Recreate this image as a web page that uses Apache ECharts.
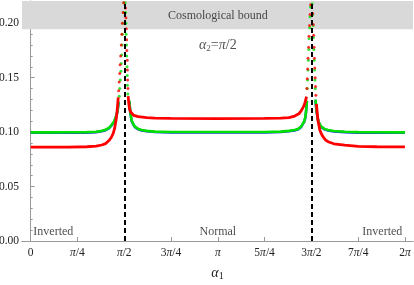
<!DOCTYPE html>
<html><head><meta charset="utf-8">
<script src="https://cdn.jsdelivr.net/npm/echarts@6/dist/echarts.min.js"></script>
<style>html,body{margin:0;padding:0;background:#fff}#c{width:414px;height:285px}</style>
</head><body><div id="c"></div>
<script>
// alpha1 in units of pi
const xTicks = [0, 0.25, 0.5, 0.75, 1, 1.25, 1.5, 1.75, 2];
const xTickLabels = ['0', '{i|\u03c0}/4', '{i|\u03c0}/2', '3{i|\u03c0}/4', '{i|\u03c0}', '5{i|\u03c0}/4', '3{i|\u03c0}/2', '7{i|\u03c0}/4', '2{i|\u03c0}'];
const yTicks = [0, 0.05, 0.10, 0.15, 0.20];
const divergences = [0.5, 1.5];
const boundLow = 0.1945;
const boundHigh = 0.2205;

// continuous curve parts (null = break)
const greenX = [0.00, 0.10, 0.20, 0.30, 0.35, 0.38, 0.40, 0.42, 0.432, 0.445, 0.452, 0.459, 0.465, 0.470,
  0.50,
  0.527, 0.532, 0.539, 0.548, 0.557, 0.575, 0.593, 0.62, 0.664, 0.75, 1.0, 1.25, 1.336, 1.38, 1.41, 1.429, 1.445, 1.455, 1.462, 1.468, 1.472, 1.476,
  1.50,
  1.522, 1.527, 1.536, 1.545, 1.554, 1.57, 1.589, 1.62, 1.678, 1.75, 1.85, 2.0];
const greenY = [0.0998, 0.0998, 0.0999, 0.1000, 0.1004, 0.1012, 0.1022, 0.1042, 0.1066, 0.1095, 0.1125, 0.1158, 0.1210, 0.1280,
  null,
  0.1290, 0.1190, 0.1110, 0.1075, 0.1050, 0.1030, 0.1020, 0.1012, 0.1005, 0.1002, 0.1001, 0.1002, 0.1005, 0.1012, 0.1020, 0.1030, 0.1050, 0.1066, 0.1100, 0.1140, 0.1200, 0.1290,
  null,
  0.1300, 0.1200, 0.1110, 0.1070, 0.1050, 0.1030, 0.1020, 0.1010, 0.1004, 0.1000, 0.0999, 0.0998];
const blueY = [0.0994, 0.0994, 0.0995, 0.0996, 0.1000, 0.1008, 0.1018, 0.1038, 0.1062, 0.1091, 0.1121, 0.1154, 0.1206, 0.1276,
  null,
  0.1286, 0.1186, 0.1106, 0.1071, 0.1046, 0.1026, 0.1016, 0.1008, 0.1001, 0.0998, 0.0997, 0.0998, 0.1001, 0.1008, 0.1016, 0.1026, 0.1046, 0.1062, 0.1096, 0.1136, 0.1196, 0.1286,
  null,
  0.1296, 0.1196, 0.1106, 0.1066, 0.1046, 0.1026, 0.1016, 0.1006, 0.1000, 0.0996, 0.0995, 0.0994];
const redX = [0.00, 0.10, 0.20, 0.30, 0.35, 0.38, 0.40, 0.42, 0.432, 0.441, 0.448, 0.453, 0.457, 0.461, 0.465, 0.468,
  0.50,
  0.521, 0.524, 0.528, 0.534, 0.539, 0.55, 0.575, 0.62, 0.664, 0.75, 1.0, 1.25, 1.336, 1.38, 1.411, 1.435, 1.447, 1.458, 1.465, 1.474,
  1.50,
  1.527, 1.532, 1.536, 1.545, 1.553, 1.562, 1.575, 1.589, 1.62, 1.678, 1.75, 1.85, 2.0];
const redY = [0.0862, 0.0862, 0.0863, 0.0866, 0.0872, 0.0882, 0.0895, 0.0925, 0.0955, 0.0990, 0.1030, 0.1080, 0.1120, 0.1180, 0.1260, 0.1320,
  null,
  0.1330, 0.1270, 0.1215, 0.1185, 0.1170, 0.1155, 0.1142, 0.1133, 0.1128, 0.1126, 0.1125, 0.1126, 0.1128, 0.1133, 0.1148, 0.1172, 0.1200, 0.1235, 0.1265, 0.1326,
  null,
  0.1260, 0.1160, 0.1100, 0.1020, 0.0985, 0.0958, 0.0930, 0.0912, 0.0893, 0.0880, 0.0870, 0.0866, 0.0864];

// scattered sample points near the divergences
const greenSpikeX = [0.473, 0.476, 0.479, 0.482, 0.484, 0.486, 0.488, 0.490, 0.493, 0.496, 0.498,
  0.519, 0.517, 0.516, 0.515, 0.513, 0.512, 0.510, 0.509, 0.507, 0.505,
  1.478, 1.480, 1.482, 1.484, 1.486, 1.488, 1.491, 1.493, 1.495,
  1.521, 1.519, 1.517, 1.515, 1.513, 1.511, 1.509, 1.507, 1.504];
const greenSpikeY = [0.133, 0.140, 0.148, 0.156, 0.163, 0.171, 0.180, 0.190, 0.200, 0.210, 0.219,
  0.135, 0.143, 0.152, 0.160, 0.170, 0.180, 0.190, 0.200, 0.210, 0.219,
  0.140, 0.148, 0.157, 0.166, 0.176, 0.186, 0.196, 0.206, 0.215,
  0.140, 0.148, 0.157, 0.166, 0.176, 0.187, 0.198, 0.208, 0.218];
const redSpikeX = [0.470, 0.473, 0.476, 0.478, 0.481, 0.484, 0.487, 0.490, 0.494, 0.497,
  0.520, 0.518, 0.517, 0.516, 0.514, 0.513, 0.511, 0.509, 0.507,
  1.476, 1.478, 1.480, 1.482, 1.485, 1.487, 1.490, 1.493, 1.496,
  1.524, 1.522, 1.520, 1.518, 1.516, 1.514, 1.512, 1.510, 1.507];
const redSpikeY = [0.138, 0.146, 0.154, 0.162, 0.170, 0.180, 0.190, 0.200, 0.210, 0.219,
  0.140, 0.148, 0.157, 0.166, 0.175, 0.185, 0.195, 0.205, 0.214,
  0.140, 0.149, 0.158, 0.168, 0.178, 0.188, 0.198, 0.208, 0.217,
  0.134, 0.142, 0.150, 0.159, 0.168, 0.178, 0.189, 0.199, 0.209];

// annotations (x in units of pi, y value, text)
const noteX = [1.0, 1.0, 0.121, 1.0, 1.879];
const noteY = [0.2067, 0.180, 0.008, 0.0085, 0.0085];
const noteText = ['Cosmological bound', '{a|\u03b1}{s|2}{n|=}{a|\u03c0}{n|/2}', 'Inverted', 'Normal', 'Inverted'];

const FONT = 'Liberation Serif';
const TXT = '#222';
const AX = '#999';

function toLine(xs, ys) { return xs.map((x, i) => ys[i] == null ? [x, '-'] : [x, ys[i]]); }
function toPts(xs, ys) { return xs.map((x, i) => [x, ys[i]]); }

const rich = {
  i: { fontFamily: FONT, fontStyle: 'italic', fontSize: 11.5, color: TXT },
  a: { fontFamily: FONT, fontStyle: 'italic', fontSize: 14, color: TXT },
  n: { fontFamily: FONT, fontSize: 14, color: TXT },
  s: { fontFamily: FONT, fontSize: 9, color: TXT, verticalAlign: 'bottom', padding: [7, 0, 0, 0] }
};

const chart = echarts.init(document.getElementById('c'), null, { renderer: 'canvas' });
chart.setOption({
  animation: false,
  backgroundColor: '#fff',
  grid: { left: 22, right: 1, top: 1, bottom: 44, outerBoundsMode: 'none', containLabel: false },
  xAxis: [{
    type: 'value', min: -0.0464, max: 2.043,
    name: '{a|\u03b1}{b|1}', nameLocation: 'middle', nameGap: 24,
    nameTextStyle: { rich: {
      a: { fontFamily: FONT, fontStyle: 'italic', fontSize: 14, color: TXT },
      b: { fontFamily: FONT, fontSize: 10, color: TXT, verticalAlign: 'bottom', padding: [6, 0, 0, 0] } } },
    axisLine: { show: true, lineStyle: { color: AX, width: 1 } },
    axisTick: { show: true, inside: true, length: 4, lineStyle: { color: AX }, customValues: xTicks },
    axisLabel: { show: true, margin: 6, fontFamily: FONT, fontSize: 11.5, color: TXT, customValues: xTicks,
      formatter: v => { const k = xTicks.findIndex(t => Math.abs(t - v) < 1e-9); return k < 0 ? '' : xTickLabels[k]; },
      rich: rich },
    splitLine: { show: false }
  }, {
    type: 'value', position: 'top', min: -0.0464, max: 2.043,
    axisLine: { show: true, lineStyle: { color: AX } }, axisTick: { show: false }, axisLabel: { show: false }, splitLine: { show: false }
  }],
  yAxis: [{
    type: 'value', min: 0, max: boundHigh, interval: 0.05,
    axisLine: { show: true, lineStyle: { color: AX } },
    axisTick: { show: true, inside: true, length: 4, lineStyle: { color: AX } },
    axisLabel: { show: true, showMaxLabel: false, margin: 3, fontFamily: FONT, fontSize: 11.5, color: TXT,
      formatter: v => yTicks.some(t => Math.abs(t - v) < 1e-9) ? v.toFixed(2) : '' },
    splitLine: { show: false }
  }, {
    type: 'value', min: 0, max: boundHigh, interval: 0.01, position: 'left',
    axisLine: { show: false },
    axisTick: { show: true, inside: true, length: 2, lineStyle: { color: AX } },
    axisLabel: { show: false }, splitLine: { show: false }
  }],
  series: [
    { type: 'line', data: [], silent: true, z: 1,
      markArea: { silent: true, itemStyle: { color: '#d9d9d9' }, data: [[{ yAxis: boundLow }, { yAxis: boundHigh }]] } },
    { type: 'line', data: toLine(greenX, blueY), showSymbol: false, connectNulls: false, lineStyle: { color: '#2233ff', width: 2.6 }, z: 2 },
    { type: 'line', data: toLine(greenX, greenY), showSymbol: false, connectNulls: false, lineStyle: { color: '#00e000', width: 2.6 }, z: 3 },
    { type: 'line', data: toLine(redX, redY), showSymbol: false, connectNulls: false, lineStyle: { color: '#ff0000', width: 2.8 }, z: 4 },
    { type: 'scatter', data: toPts(greenSpikeX, greenSpikeY), symbolSize: 3, itemStyle: { color: '#00e000' }, z: 3 },
    { type: 'scatter', data: toPts(redSpikeX, redSpikeY), symbolSize: 3, itemStyle: { color: '#ff0000' }, z: 4 },
    { type: 'line', data: [], z: 10,
      markLine: { silent: true, symbol: 'none', label: { show: false },
        lineStyle: { color: '#000', width: 2, type: [5, 3] },
        data: divergences.map(v => ({ xAxis: v })) } },
    { type: 'scatter', symbolSize: 0, z: 11, silent: true,
      data: noteX.map((x, i) => ({ value: [x, noteY[i]], name: noteText[i] })),
      label: { show: true, position: 'inside', formatter: p => p.name, fontFamily: FONT, fontSize: 12, color: TXT, rich: rich } }
  ]
});
</script></body></html>
